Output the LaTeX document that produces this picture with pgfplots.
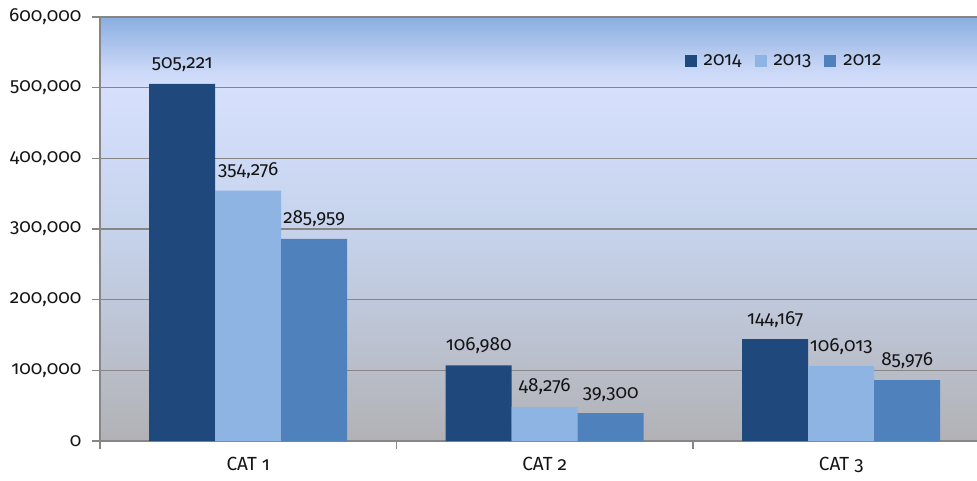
\documentclass[border=0pt]{standalone}
\usepackage{pgfplots}
\pgfplotsset{compat=1.18}
\usepackage{fontspec}
\setmainfont{Fira Sans}[Numbers=OldStyle]
\definecolor{c14}{RGB}{31,73,125}
\definecolor{c13}{RGB}{142,180,227}
\definecolor{c12}{RGB}{79,129,189}
\definecolor{gridc}{RGB}{134,134,134}
\definecolor{txt}{RGB}{20,20,20}
\definecolor{s0}{RGB}{178,178,181}
\definecolor{s1}{RGB}{184,189,200}
\definecolor{s2}{RGB}{192,201,220}
\definecolor{s3}{RGB}{198,211,235}
\definecolor{s4}{RGB}{206,218,245}
\definecolor{s5}{RGB}{214,224,252}
\definecolor{s6}{RGB}{200,214,246}
\definecolor{s7}{RGB}{138,174,224}
\pgfdeclareverticalshading{bgsh}{100bp}{color(0bp)=(s0); color(25bp)=(s0); color(33.3bp)=(s1); color(41.7bp)=(s2); color(50bp)=(s3); color(58.3bp)=(s4); color(66.7bp)=(s5); color(69bp)=(s6); color(75bp)=(s7); color(100bp)=(s7)}
\newcommand{\lbl}{\fontsize{19bp}{21bp}\selectfont}
\begin{document}
\begin{tikzpicture}
\begin{axis}[
  scale only axis, width=877bp, height=424bp,
  at={(0,0)}, anchor=south west,
  xmin=-0.5, xmax=2.458, ymin=0, ymax=600000,
  ybar=0pt, bar width=0.2226,
  axis background/.style={shade, shading=bgsh},
  axis x line*=bottom, axis y line*=left,
  axis line style={gridc, line width=1.5bp},
  tick align=outside, major tick length=8bp,
  tick style={gridc, line width=1.5bp},
  ytick={0,100000,200000,300000,400000,500000,600000},
  scaled y ticks=false,
  /pgf/number format/.cd, fixed, 1000 sep={,}, assume math mode=true, /pgfplots/.cd,
  ymajorgrids, major grid style={gridc, line width=1.5bp},
  xtick={-0.5,0.5,1.5}, xticklabels={,,},
  extra x ticks={0,1,2}, extra x tick labels={CAT 1,CAT 2,CAT 3},
  extra x tick style={major tick length=0pt, xticklabel style={yshift=-13bp}},
  ticklabel style={font=\lbl, text=txt},
  yticklabel style={xshift=-7bp},
  nodes near coords,
  every node near coord/.append style={font=\lbl, text=txt, anchor=base, yshift=15bp},
  legend style={at={(rel axis cs:0.663,0.896)}, anchor=west, draw=none, fill=none,
    font=\lbl, text=txt, legend columns=3,
    /tikz/every odd column/.append style={column sep=5bp},
    /tikz/every even column/.append style={column sep=11bp}},
  legend image code/.code={\fill[#1] (0bp,-6bp) rectangle (12bp,6bp);},
]
\addplot[fill=c14, draw=none, bar shift=-0.2226] coordinates {(0,505221) (1,106980) (2,144167)};
\addplot[fill=c13, draw=none, bar shift=0] coordinates {(0,354276) (1,48276) (2,106013)};
\addplot[fill=c12, draw=none, bar shift=0.2226] coordinates {(0,285959) (1,39300) (2,85976)};
\legend{2014,2013,2012}
\end{axis}
\pgfresetboundingbox
\path[use as bounding box] (-100bp,-40bp) rectangle (877bp,441bp);
\end{tikzpicture}
\end{document}
